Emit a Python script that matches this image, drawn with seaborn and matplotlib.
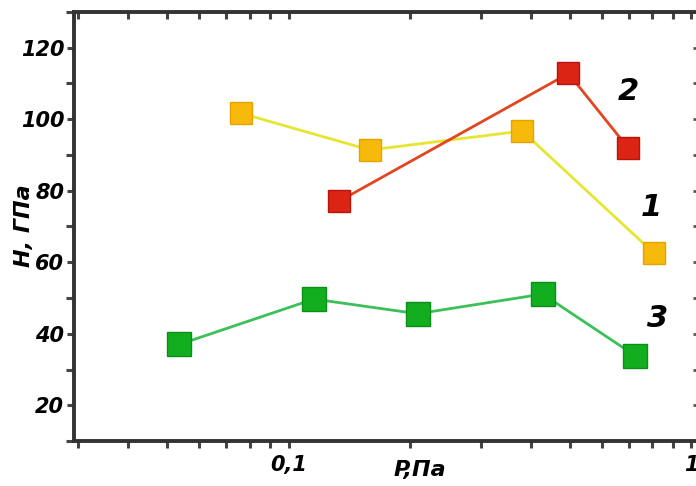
#!/usr/bin/env python3

import pandas
import seaborn as sns
import matplotlib.pyplot as plt
from matplotlib.ticker import FixedLocator, FixedFormatter, LogLocator, NullFormatter, MultipleLocator

# Curve 1 (yellow)
p1 = [0.076, 0.159, 0.380, 0.808]
h1 = [101.7, 91.4, 96.7, 62.5]
# Curve 2 (red)
p2 = [0.133, 0.495, 0.696]
h2 = [77.0, 112.8, 92.0]
# Curve 3 (green)
p3 = [0.0534, 0.1155, 0.209, 0.427, 0.724]
h3 = [37.0, 49.7, 45.6, 51.1, 33.9]

series_labels = ["1", "2", "3"]
x_ticks = [0.1, 1]
x_tick_labels = ["0,1", "1"]
y_ticks = [20, 40, 60, 80, 100, 120]

# Build one long frame
rows = []
for name, xs, ys in zip(series_labels, [p1, p2, p3], [h1, h2, h3]):
    for x, y in zip(xs, ys):
        rows.append([name, x, y])
df = pandas.DataFrame(rows, columns=["curve", "P", "H"])

line_pal = {"1": "#e6e632", "2": "#e2451f", "3": "#3dbf5a"}
marker_pal = {"1": "#f7b90a", "2": "#dc2414", "3": "#13ad20"}
edge_pal = {"1": "#e3a400", "2": "#b8140c", "3": "#0a8f18"}
marker_size = {"1": 15.5, "2": 15.5, "3": 17.5}

sns.set_style("ticks")
plt.rcParams["font.family"] = ["DejaVu Sans"]
plt.rcParams["text.color"] = "black"

fig = plt.figure(figsize=(6.96, 4.86), dpi=100)
ax = fig.add_axes([74 / 696, 45 / 486, 626 / 696, 429 / 486])

sns.lineplot(
    data=df, x="P", y="H", hue="curve", palette=line_pal,
    legend=False, sort=False, linewidth=2.0, ax=ax,
)
for name in series_labels:
    sub = df[df.curve == name]
    ax.plot(
        sub.P, sub.H, linestyle="none", marker="s",
        markersize=marker_size[name], markerfacecolor=marker_pal[name],
        markeredgecolor=edge_pal[name], markeredgewidth=1.0, zorder=3,
    )

ax.set_xscale("log")
ax.set_xlim(0.0293, 1.05)
ax.set_ylim(10, 130)

ax.xaxis.set_major_locator(FixedLocator(x_ticks))
ax.xaxis.set_major_formatter(FixedFormatter(x_tick_labels))
ax.xaxis.set_minor_locator(LogLocator(base=10, subs=range(2, 10)))
ax.xaxis.set_minor_formatter(NullFormatter())
ax.yaxis.set_major_locator(FixedLocator(y_ticks))
ax.yaxis.set_minor_locator(MultipleLocator(10))

for side in ["left", "bottom", "top"]:
    ax.spines[side].set_linewidth(2.8)
    ax.spines[side].set_color("#333333")
ax.spines["right"].set_visible(False)

ax.tick_params(axis="both", which="both", color="#444444", width=2.2,
               direction="out", length=5, labelsize=15, labelcolor="black")
ax.tick_params(axis="y", which="minor", length=6)
ax.tick_params(axis="y", which="major", length=5, pad=2)
ax.tick_params(axis="x", which="major", pad=5)

# top and right ticks point inwards
top = ax.secondary_xaxis("top")
top.xaxis.set_major_locator(FixedLocator(x_ticks))
top.xaxis.set_minor_locator(LogLocator(base=10, subs=range(2, 10)))
top.tick_params(axis="x", which="both", direction="in", length=5, width=2.2,
                color="#444444", labeltop=False)
top.spines["top"].set_visible(False)

right = ax.secondary_yaxis("right")
right.yaxis.set_major_locator(FixedLocator(y_ticks))
right.yaxis.set_minor_locator(MultipleLocator(10))
right.tick_params(axis="y", which="both", direction="in", length=5, width=2.0,
                  color="#555555", labelright=False)
right.spines["right"].set_visible(False)

for lab in ax.get_xticklabels() + ax.get_yticklabels():
    lab.set_fontweight("heavy")
    lab.set_fontstyle("italic")

ax.set_xlabel("")
ax.set_ylabel("")
fig.text(420 / 696, 1 - 470 / 486, "P,Па", ha="center", va="center",
         fontsize=16, fontweight="bold", fontstyle="italic")
fig.text(24 / 696, 1 - 226 / 486, "H, ГПа", ha="center", va="center",
         rotation=90, fontsize=16, fontweight="bold", fontstyle="italic")

# Curve numbers
for name, px, py in [("2", 628, 92), ("1", 651, 207), ("3", 658, 318)]:
    fig.text(px / 696, 1 - py / 486, name, ha="center", va="center",
             fontsize=22, fontweight="heavy", fontstyle="italic")

plt.savefig("out.png", dpi=100)
